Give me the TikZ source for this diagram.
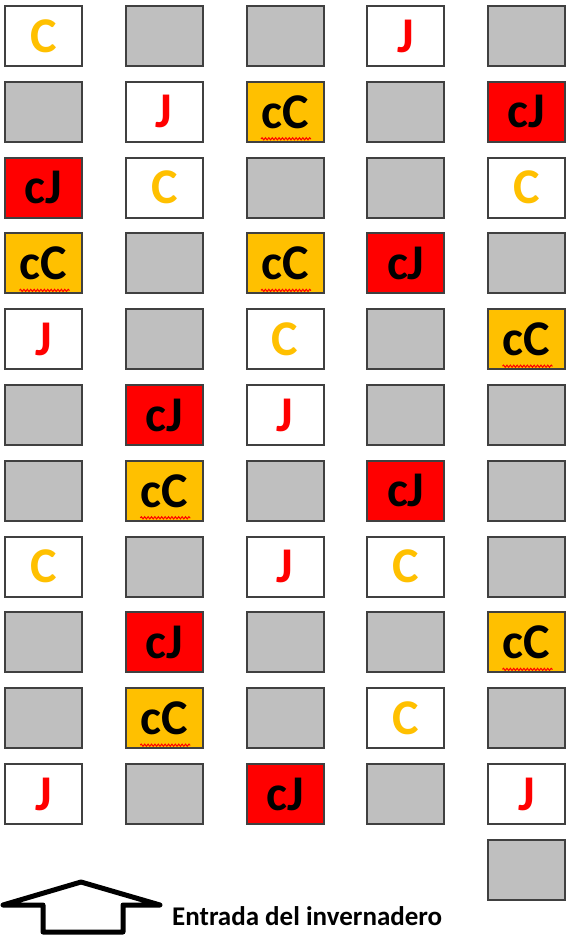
\documentclass[tikz,border=0pt]{standalone}
\usepackage{fontspec}
\setmainfont{Carlito}
\usetikzlibrary{decorations.pathmorphing}
\definecolor{gris}{HTML}{BFBFBF}
\definecolor{naranja}{HTML}{FFC000}
\definecolor{rojo}{HTML}{FF0000}
\definecolor{borde}{HTML}{404040}
\begin{document}
\begin{tikzpicture}[x=1pt, y=-1pt,
    celda/.style={draw=borde, line width=2pt, minimum width=77pt, minimum height=60pt,
      inner sep=0pt, font=\fontsize{50}{50}\selectfont\bfseries},
    onda/.style={rojo, line width=1pt, decorate, decoration={snake, amplitude=1.1pt, segment length=3.4pt}},
    tg/.style={celda, fill=gris, node contents={}},
    tC/.style={celda, fill=white, text=naranja, node contents={C}},
    tJ/.style={celda, fill=white, text=rojo, node contents={J}},
    tcJ/.style={celda, fill=rojo, text=black, node contents={cJ}},
    tcC/.style={celda, fill=naranja, text=black, node contents={cC},
      path picture={\draw[onda] ([xshift=-24pt, yshift=-27pt]path picture bounding box.center) -- ++(50pt,0);}}]

\useasboundingbox (0,0) rectangle (568,935);

% parcelas, fila por fila
\foreach \fila [count=\i] in {{C,g,g,J,g},{g,J,cC,g,cJ},{cJ,C,g,g,C},{cC,g,cC,cJ,g},
    {J,g,C,g,cC},{g,cJ,J,g,g},{g,cC,g,cJ,g},{C,g,J,C,g},{g,cJ,g,g,cC},
    {g,cC,g,C,g},{J,g,cJ,g,J}}{
  \foreach \tipo [count=\j] in \fila {
    \node (p-\i-\j) at ({43.5+120.75*(\j-1)}, {36+75.8*(\i-1)}) [t\tipo];
  }
}
% parcela suelta al final de la ultima columna
\node (p-12-5) at (526.5, 870) [tg];

% entrada
\draw[line width=5pt, line join=round, line cap=round]
  (3,905) -- (81,882) -- (160,905) -- (123,905) -- (123,932) -- (43,932) -- (43,905) -- cycle;
\node[anchor=west, inner sep=0pt, font=\fontsize{27}{27}\selectfont\bfseries] (entrada) at (172,916) {Entrada del invernadero};
\end{tikzpicture}
\end{document}
